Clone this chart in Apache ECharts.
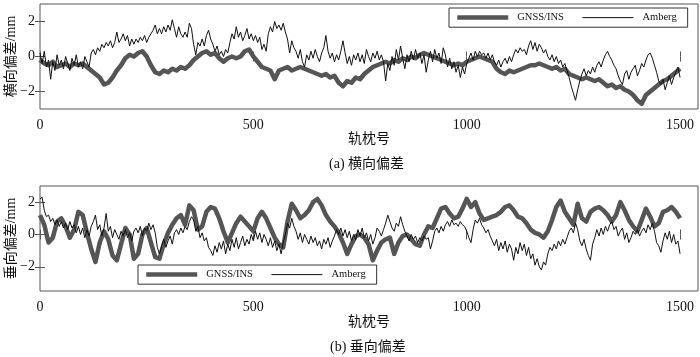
<!DOCTYPE html>
<html><head><meta charset="utf-8">
<script src="https://cdn.jsdelivr.net/npm/echarts@6/dist/echarts.min.js"></script>
<style>html,body{margin:0;padding:0;background:#fff}#c{width:700px;height:357px}</style>
</head><body><div id="c"></div>
<script>
const xTicks = [0, 500, 1000, 1500];
const yTicks = [-2, 0, 2];
const seriesNames = ['GNSS/INS', 'Amberg'];
const captions = ['(a) 横向偏差', '(b) 垂向偏差'];
const yNames = ['横向偏差/mm', '垂向偏差/mm'];
const xName = '轨枕号';
const stepG = 10, stepA = 5;

// (a) lateral deviation, GNSS/INS, every 10 sleepers
const latGNSS = [
-0.2,-0.4,-0.5,-0.3,-0.6,-0.5,-0.4,-0.6,-0.4,-0.5,
-0.4,-0.6,-0.8,-1.0,-1.2,-1.6,-1.5,-1.2,-0.8,-0.5,
-0.1,0.1,0.0,0.2,0.3,0.0,-0.5,-0.9,-1.0,-0.8,
-0.9,-0.7,-0.8,-0.6,-0.7,-0.5,-0.2,0.0,0.2,0.3,
0.1,0.2,-0.1,-0.3,-0.1,0.0,-0.1,0.0,0.3,0.4,
0.0,-0.3,-0.6,-0.7,-0.8,-1.3,-0.8,-0.7,-0.6,-0.8,
-0.7,-0.6,-0.7,-0.8,-0.9,-1.0,-1.1,-1.0,-1.2,-1.1,
-1.5,-1.7,-1.4,-1.5,-1.2,-1.3,-1.0,-0.8,-0.6,-0.5,
-0.4,-0.3,-0.4,-0.2,-0.3,-0.1,-0.2,0.0,-0.1,0.1,
0.2,0.1,0.0,-0.1,-0.2,-0.3,-0.4,-0.5,-0.4,-0.5,
-0.3,-0.2,-0.1,0.0,-0.1,-0.2,-0.3,-0.7,-0.9,-1.0,
-0.8,-0.9,-0.8,-0.7,-0.6,-0.5,-0.5,-0.4,-0.5,-0.6,
-0.7,-0.6,-0.8,-0.7,-1.0,-1.1,-1.2,-1.3,-1.2,-1.3,
-1.4,-1.3,-1.5,-1.7,-1.6,-1.8,-1.7,-1.9,-2.0,-2.2,
-2.5,-2.7,-2.2,-2.0,-1.8,-1.6,-1.4,-1.3,-1.1,-0.9,
-0.7];

// (a) lateral deviation, Amberg, every 5 sleepers
const latAmberg = [
0.2,-0.4,0.3,-0.6,-0.2,-1.3,-0.3,-0.8,0.1,-0.5,-0.2,-0.7,0.0,-0.4,-0.8,-0.1,-0.5,0.1,-0.6,-0.3,
-0.7,0.0,-0.3,-0.6,0.2,0.4,0.1,0.5,0.3,0.7,0.5,0.8,0.6,0.9,0.5,0.8,1.4,0.8,1.0,1.3,
0.9,1.2,0.6,1.0,0.7,1.0,0.8,1.1,0.9,1.2,0.8,1.1,1.3,1.5,1.8,1.3,1.6,1.3,1.7,1.4,
1.8,1.5,2.1,1.6,1.1,1.7,1.3,1.1,1.4,1.1,1.9,1.6,0.7,0.1,0.8,0.6,1.0,0.6,1.2,1.5,
1.0,0.7,0.3,0.6,0.1,0.3,0.0,0.4,0.2,0.8,1.3,1.0,1.7,1.1,1.4,0.9,1.2,1.6,1.0,1.3,
0.9,1.2,0.8,1.1,0.4,0.7,0.3,1.3,1.7,1.4,2.0,1.6,1.8,1.5,1.9,1.4,1.0,0.2,0.9,0.5,
0.3,-0.1,0.4,-0.3,-0.6,0.1,-0.2,0.3,-0.1,0.4,0.0,-0.3,0.2,0.5,1.2,0.3,-0.1,0.2,-0.3,0.1,
-0.2,0.3,0.9,0.2,-0.4,0.0,-0.5,0.1,-0.2,0.2,-0.3,0.1,-0.4,0.4,0.0,-0.3,0.2,-0.1,0.3,-0.2,
0.1,-0.3,-1.4,-0.4,-0.8,0.0,-0.5,0.4,-0.2,0.6,-0.1,-0.7,0.1,-0.3,0.3,-0.2,0.4,-0.1,0.2,-0.4,
0.1,-0.9,-0.2,0.3,-0.3,0.4,-0.1,0.2,-0.4,0.5,0.1,-0.6,-0.1,-0.7,-0.3,-0.9,-0.5,-1.2,-0.6,-1.0,
-0.4,-0.1,0.2,-0.2,0.3,0.0,0.3,0.1,0.2,-0.1,0.2,-0.2,0.1,-0.3,-0.5,-0.2,-0.6,-0.3,-0.1,-0.4,
0.0,-0.3,0.1,0.4,0.2,0.5,0.3,0.4,0.1,0.6,0.9,0.4,0.8,0.3,0.7,0.5,0.2,0.4,0.0,-0.2,
0.1,-0.3,0.0,-0.4,-0.2,-0.6,-0.4,-0.8,-1.2,-1.7,-2.1,-2.5,-1.9,-1.4,-1.0,-0.7,-1.1,-0.8,-1.0,-0.6,
-0.9,-0.5,-0.3,-0.6,-0.2,0.1,0.3,0.0,-0.2,-0.5,-0.7,-1.1,-1.4,-1.6,-1.0,-0.8,-1.3,-0.9,-0.7,-0.5,
-1.1,-0.8,-0.4,-0.6,-0.2,0.1,0.2,-0.1,-0.5,-0.9,-1.4,-1.6,-1.3,-1.9,-1.5,-1.1,-1.6,-1.2,-0.9,-0.6,
-1.2];

// (b) vertical deviation, GNSS/INS, every 10 sleepers
const verGNSS = [
1.2,0.6,-0.5,-0.2,0.8,1.0,0.5,-0.2,0.3,1.4,
1.2,0.1,-0.9,-1.7,-0.5,0.2,-0.3,-1.3,-1.6,-0.6,
0.4,0.0,-1.5,-1.2,0.0,0.4,-0.5,-1.4,-1.5,-0.6,
0.1,0.6,1.0,1.2,0.6,1.8,1.5,0.3,0.5,1.4,
1.7,1.6,1.0,0.2,-0.5,0.1,0.7,1.1,0.8,0.5,
0.2,1.0,1.4,1.0,0.4,-0.2,-0.6,-0.8,0.8,1.9,
1.5,1.0,1.2,1.5,2.0,2.2,1.8,1.2,0.8,0.5,
0.1,-0.5,-1.2,-0.6,-0.1,0.0,-0.2,-0.6,-1.6,-1.0,
-0.5,-0.3,-0.2,-1.2,-0.5,-0.1,0.0,-0.3,-0.6,-0.7,
0.0,0.5,0.4,1.0,1.6,1.7,1.3,1.0,1.1,1.6,
2.2,1.7,2.0,1.3,0.9,1.0,1.1,1.2,1.4,1.7,
1.8,1.5,1.1,1.0,0.7,0.3,0.1,0.0,-0.2,0.2,
0.9,1.7,2.1,1.4,1.0,0.6,1.9,1.0,0.8,1.4,
1.6,1.7,1.5,1.2,0.8,1.2,2.0,1.5,0.9,0.5,
0.2,0.9,1.6,1.1,0.5,0.7,1.4,1.5,1.7,1.4,
1.0];

// (b) vertical deviation, Amberg, every 5 sleepers
const verAmberg = [
2.2,2.3,1.5,1.1,1.2,0.8,1.0,0.6,0.9,0.5,0.8,0.4,0.7,0.3,0.8,0.4,0.6,0.1,0.5,0.0,
0.4,-0.2,0.3,-0.1,0.5,0.8,1.2,0.3,0.6,-0.1,0.4,1.3,0.2,0.5,-0.2,0.3,0.0,-0.3,0.2,-0.1,
0.3,-0.2,0.1,-0.4,0.2,0.4,0.1,0.5,-0.1,0.4,0.2,0.7,0.3,0.6,0.1,-0.8,-1.2,-0.7,-0.3,-0.8,
-0.4,-0.1,-0.6,0.1,0.3,0.0,0.4,0.1,0.5,0.3,0.8,1.1,0.9,0.2,0.5,-0.2,0.1,-0.4,-0.2,-0.8,
-1.0,-1.3,-0.7,-1.1,-0.5,-0.9,-0.4,-1.2,-0.6,-1.0,-0.3,-0.8,-0.2,-0.9,-0.5,-0.1,-0.7,-0.3,-0.6,0.0,
-0.4,0.2,-0.3,0.1,-0.5,0.0,-0.3,-0.7,-0.2,-0.8,-0.4,-1.0,-0.6,-1.2,-0.5,0.0,0.7,0.4,1.0,0.5,
0.2,-0.3,0.1,-0.5,0.0,-0.3,-0.6,-0.1,-0.5,-0.2,-0.7,-0.4,-0.9,-0.3,-0.6,-0.2,-0.8,-0.4,-0.1,0.3,
0.0,0.4,-0.1,0.3,-0.2,0.2,-0.4,0.0,-0.3,0.3,-0.1,0.4,-0.2,0.1,-0.4,0.0,-0.6,-0.2,0.4,0.2,
-0.1,0.3,0.7,1.2,0.8,0.4,0.2,0.7,0.5,1.1,0.6,0.2,-0.1,-0.4,0.0,-0.3,-0.1,-0.5,-0.2,-0.4,
-0.1,-0.3,-0.2,-0.9,-0.4,0.2,0.4,0.1,0.5,0.2,0.6,0.8,0.5,0.9,0.6,0.7,0.5,0.8,0.6,0.5,
0.2,-0.2,-0.5,0.3,0.9,0.7,1.0,0.6,0.4,0.1,0.3,-0.1,-0.4,-0.7,-0.3,-1.0,-0.5,-0.9,-0.4,-1.1,
-0.6,-0.9,-1.6,-0.8,-1.2,-0.5,-1.0,-0.6,-1.3,-0.8,-1.5,-1.2,-1.9,-1.5,-2.0,-2.2,-1.7,-1.9,-1.2,-0.8,
-1.0,-0.6,-0.9,-0.4,-0.7,-0.3,-0.6,-0.2,0.2,0.4,0.1,0.7,0.3,-0.4,-0.7,-0.3,-0.9,-1.3,-1.6,-0.6,
-0.2,0.3,-0.1,0.4,0.0,0.5,0.2,0.6,0.8,0.3,0.5,-0.1,0.2,0.4,-0.3,0.1,-0.5,-0.2,0.2,0.0,
0.3,-0.1,0.2,0.4,0.1,0.6,0.3,0.7,0.2,-0.5,-0.7,-1.1,-0.4,0.1,-0.3,0.2,-0.5,0.0,-0.6,-0.4,
-1.2];

const FONT = "'Liberation Serif','Times New Roman','Noto Sans CJK SC',serif";
const toPairs = (arr, step) => arr.map((v, k) => [k * step, v]);
const fmt = v => String(v).replace('-', '\u2212');

const grids = [
  {left: 40, top: 4, width: 658, height: 105},
  {left: 40, top: 186, width: 658, height: 105}
];
const yRanges = [[-3, 3], [-3.5, 3]];
const axisColor = '#555';
const gnssColor = '#555555', ambergColor = '#111111';
const gnssWidth = 4.5, ambergWidth = 1;

const xAxis = [], yAxis = [];
grids.forEach((g, gi) => {
  xAxis.push({
    gridIndex: gi, type: 'value', min: 0, max: 1542, position: 'bottom',
    axisLine: {show: false}, splitLine: {show: false},
    axisTick: {inside: true, length: 5, customValues: xTicks, lineStyle: {color: axisColor}},
    axisLabel: {customValues: xTicks, margin: 9, fontSize: 14, color: '#111', fontFamily: FONT, formatter: v => String(v)},
    name: xName, nameLocation: 'middle', nameGap: gi === 0 ? 23 : 24, nameMoveOverlap: false,
    nameTextStyle: {fontSize: 14, color: '#111', fontFamily: FONT}
  });
  xAxis.push({
    gridIndex: gi, type: 'value', min: 0, max: 1542, position: 'top',
    axisLine: {show: false}, splitLine: {show: false}, axisLabel: {show: false},
    axisTick: {inside: true, length: 5, customValues: xTicks, lineStyle: {color: axisColor}}
  });
  yAxis.push({
    gridIndex: gi, type: 'value', min: yRanges[gi][0], max: yRanges[gi][1], position: 'left',
    axisLine: {show: false}, splitLine: {show: false},
    axisTick: {inside: true, length: 5, customValues: yTicks, lineStyle: {color: axisColor}},
    axisLabel: {customValues: yTicks, margin: 5, fontSize: 14, color: '#111', fontFamily: FONT, formatter: fmt},
    name: yNames[gi], nameLocation: 'middle', nameGap: 22, nameRotate: 90, nameMoveOverlap: false,
    nameTextStyle: {fontSize: 14, color: '#111', fontFamily: FONT}
  });
  yAxis.push({
    gridIndex: gi, type: 'value', min: yRanges[gi][0], max: yRanges[gi][1], position: 'right',
    axisLine: {show: false}, splitLine: {show: false}, axisLabel: {show: false},
    axisTick: {inside: true, length: 5, customValues: yTicks, lineStyle: {color: axisColor}}
  });
});

const mk = (name, data, gi, color, width, z) => ({
  name, type: 'line', data, xAxisIndex: gi * 2, yAxisIndex: gi * 2,
  showSymbol: false, symbol: 'none', animation: false, z,
  lineStyle: {color, width, join: 'round'}, itemStyle: {color}
});

const series = [
  mk(seriesNames[0], toPairs(latGNSS, stepG), 0, gnssColor, gnssWidth, 2),
  mk(seriesNames[1], toPairs(latAmberg, stepA), 0, ambergColor, ambergWidth, 3),
  mk(seriesNames[0], toPairs(verGNSS, stepG), 1, gnssColor, gnssWidth, 2),
  mk(seriesNames[1], toPairs(verAmberg, stepA), 1, ambergColor, ambergWidth, 3)
];

const legendBase = {
  orient: 'horizontal', itemWidth: 51, itemHeight: 14, itemGap: 18,
  padding: [4, 11, 4, 6], borderColor: '#333', borderWidth: 1, backgroundColor: '#fff',
  selectedMode: false,
  data: [
    {name: seriesNames[0], lineStyle: {width: gnssWidth, color: gnssColor}},
    {name: seriesNames[1], lineStyle: {width: ambergWidth, color: ambergColor}}
  ],
  itemStyle: {opacity: 0},
  textStyle: {fontSize: 10.5, color: '#111', fontFamily: FONT, padding: [0, 0, 0, 4]}
};

const chart = echarts.init(document.getElementById('c'), null, {renderer: 'canvas'});
chart.setOption({
  animation: false,
  backgroundColor: '#fff',
  grid: grids.map(g => Object.assign({show: true, borderColor: axisColor, borderWidth: 1, backgroundColor: 'transparent', containLabel: false, outerBoundsMode: 'none'}, g)),
  xAxis, yAxis, series,
  legend: [
    Object.assign({}, legendBase, {left: 449, top: 8, z: 10}),
    Object.assign({}, legendBase, {left: 138, top: 265, z: 10})
  ],
  graphic: [
    {type: 'text', left: 329, top: 157, style: {text: captions[0], fill: '#111', font: '14px ' + FONT}},
    {type: 'text', left: 330, top: 340, style: {text: captions[1], fill: '#111', font: '14px ' + FONT}}
  ]
});
</script>
</body></html>
